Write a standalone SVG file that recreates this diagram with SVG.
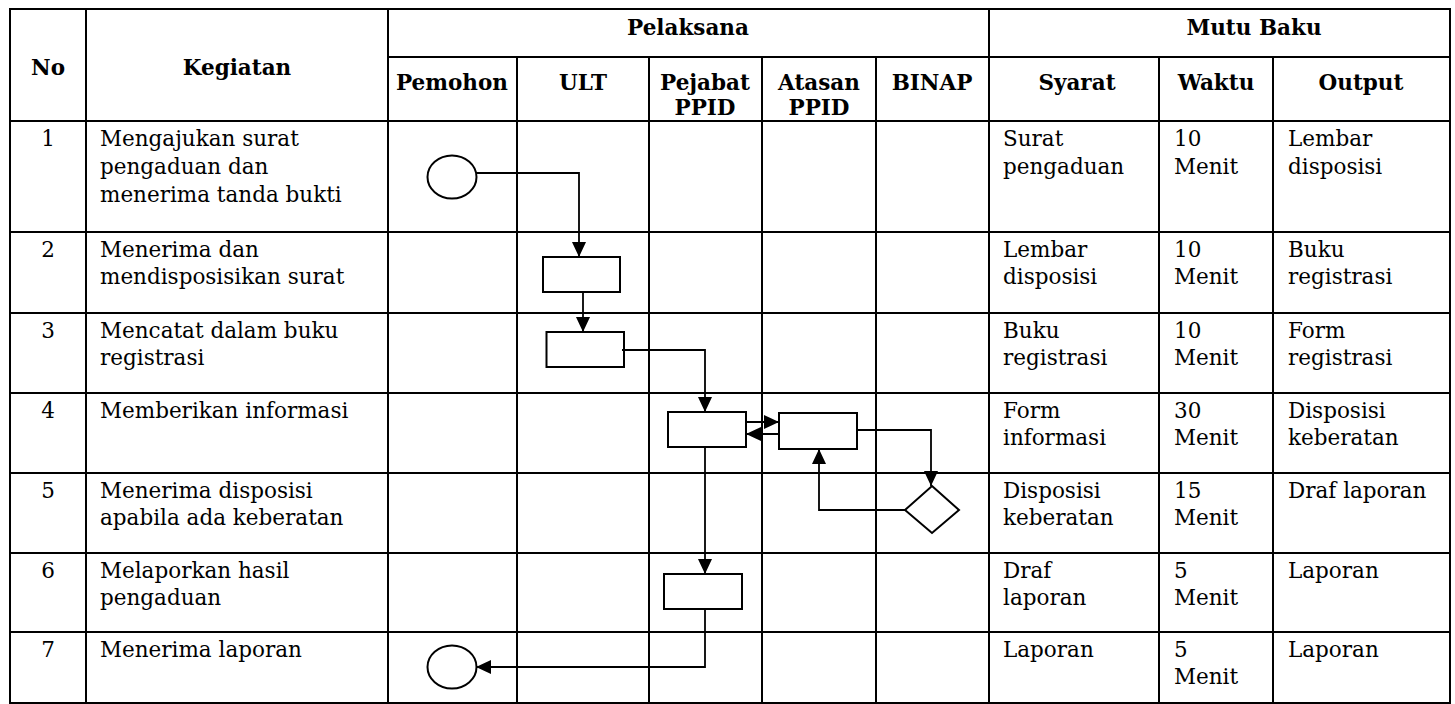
<svg xmlns="http://www.w3.org/2000/svg" width="1455" height="704" viewBox="0 0 1455 704">
<defs>
<style>
.grid line{stroke:#000;stroke-width:2}
.t{font-family:"DejaVu Serif","Liberation Serif",serif;font-size:21.5px;fill:#000}
.h{font-family:"DejaVu Serif","Liberation Serif",serif;font-size:21.5px;font-weight:bold;fill:#000}
.c{text-anchor:middle}
.shape{fill:#fff;stroke:#000;stroke-width:2}
.conn path{fill:none;stroke:#000;stroke-width:1.8}
</style>
<marker id="ah" markerWidth="15" markerHeight="14" refX="15" refY="7" orient="auto" markerUnits="userSpaceOnUse"><path d="M0,0 L15,7 L0,14 z" fill="#000"/></marker>
</defs>
<rect x="0" y="0" width="1455" height="704" fill="#fff"/>
<g id="table" class="grid">
<rect x="10" y="9" width="1440" height="694" fill="none" stroke="#000" stroke-width="2"/>
<line x1="86" y1="9" x2="86" y2="703"/>
<line x1="388" y1="9" x2="388" y2="703"/>
<line x1="989" y1="9" x2="989" y2="703"/>
<line x1="517" y1="57" x2="517" y2="703"/>
<line x1="649" y1="57" x2="649" y2="703"/>
<line x1="762" y1="57" x2="762" y2="703"/>
<line x1="876" y1="57" x2="876" y2="703"/>
<line x1="1159" y1="57" x2="1159" y2="703"/>
<line x1="1273" y1="57" x2="1273" y2="703"/>
<line x1="388" y1="57" x2="1450" y2="57"/>
<line x1="10" y1="121" x2="1450" y2="121"/>
<line x1="10" y1="232" x2="1450" y2="232"/>
<line x1="10" y1="313" x2="1450" y2="313"/>
<line x1="10" y1="393" x2="1450" y2="393"/>
<line x1="10" y1="473" x2="1450" y2="473"/>
<line x1="10" y1="553" x2="1450" y2="553"/>
<line x1="10" y1="632" x2="1450" y2="632"/>
</g>
<g id="header">
<text class="h c" x="48" y="75">No</text>
<text class="h c" x="237" y="75">Kegiatan</text>
<text class="h c" x="688" y="35">Pelaksana</text>
<text class="h c" x="1254" y="35">Mutu Baku</text>
<text class="h c" x="452" y="90">Pemohon</text>
<text class="h c" x="583" y="90">ULT</text>
<text class="h c" x="705" y="90">Pejabat</text>
<text class="h c" x="705" y="115">PPID</text>
<text class="h c" x="819" y="90">Atasan</text>
<text class="h c" x="819" y="115">PPID</text>
<text class="h c" x="932" y="90">BINAP</text>
<text class="h c" x="1077" y="90">Syarat</text>
<text class="h c" x="1216" y="90">Waktu</text>
<text class="h c" x="1361" y="90">Output</text>
</g>
<g id="row1" class="t">
<text class="c" x="48" y="146">1</text>
<text x="100" y="146">Mengajukan surat</text>
<text x="100" y="174">pengaduan dan</text>
<text x="100" y="202">menerima tanda bukti</text>
<text x="1003" y="146">Surat</text>
<text x="1003" y="174">pengaduan</text>
<text x="1174" y="146">10</text>
<text x="1174" y="174">Menit</text>
<text x="1288" y="146">Lembar</text>
<text x="1288" y="174">disposisi</text>
</g>
<g id="row2" class="t">
<text class="c" x="48" y="257">2</text>
<text x="100" y="257">Menerima dan</text>
<text x="100" y="284">mendisposisikan surat</text>
<text x="1003" y="257">Lembar</text>
<text x="1003" y="284">disposisi</text>
<text x="1174" y="257">10</text>
<text x="1174" y="284">Menit</text>
<text x="1288" y="257">Buku</text>
<text x="1288" y="284">registrasi</text>
</g>
<g id="row3" class="t">
<text class="c" x="48" y="338">3</text>
<text x="100" y="338">Mencatat dalam buku</text>
<text x="100" y="365">registrasi</text>
<text x="1003" y="338">Buku</text>
<text x="1003" y="365">registrasi</text>
<text x="1174" y="338">10</text>
<text x="1174" y="365">Menit</text>
<text x="1288" y="338">Form</text>
<text x="1288" y="365">registrasi</text>
</g>
<g id="row4" class="t">
<text class="c" x="48" y="418">4</text>
<text x="100" y="418">Memberikan informasi</text>
<text x="1003" y="418">Form</text>
<text x="1003" y="445">informasi</text>
<text x="1174" y="418">30</text>
<text x="1174" y="445">Menit</text>
<text x="1288" y="418">Disposisi</text>
<text x="1288" y="445">keberatan</text>
</g>
<g id="row5" class="t">
<text class="c" x="48" y="498">5</text>
<text x="100" y="498">Menerima disposisi</text>
<text x="100" y="525">apabila ada keberatan</text>
<text x="1003" y="498">Disposisi</text>
<text x="1003" y="525">keberatan</text>
<text x="1174" y="498">15</text>
<text x="1174" y="525">Menit</text>
<text x="1288" y="498">Draf laporan</text>
</g>
<g id="row6" class="t">
<text class="c" x="48" y="578">6</text>
<text x="100" y="578">Melaporkan hasil</text>
<text x="100" y="605">pengaduan</text>
<text x="1003" y="578">Draf</text>
<text x="1003" y="605">laporan</text>
<text x="1174" y="578">5</text>
<text x="1174" y="605">Menit</text>
<text x="1288" y="578">Laporan</text>
</g>
<g id="row7" class="t">
<text class="c" x="48" y="657">7</text>
<text x="100" y="657">Menerima laporan</text>
<text x="1003" y="657">Laporan</text>
<text x="1174" y="657">5</text>
<text x="1174" y="684">Menit</text>
<text x="1288" y="657">Laporan</text>
</g>
<g id="start"><ellipse class="shape" cx="452" cy="177" rx="24.5" ry="21.5" stroke-width="1.6"/></g>
<g id="ult-terima"><rect class="shape" x="543" y="257" width="77" height="35"/></g>
<g id="ult-catat"><rect class="shape" x="546.5" y="332" width="77.5" height="35"/></g>
<g id="ppid-info"><rect class="shape" x="668" y="412" width="78" height="35"/></g>
<g id="atasan-info"><rect class="shape" x="779" y="413" width="78" height="36"/></g>
<g id="binap-decision"><polygon class="shape" points="932,486 959,510 932,533 905,510" stroke-width="1.6"/></g>
<g id="ppid-lapor"><rect class="shape" x="664" y="574" width="78" height="35"/></g>
<g id="end"><ellipse class="shape" cx="452" cy="667" rx="24.5" ry="21.5" stroke-width="1.6"/></g>
<g id="connectors" class="conn">
<path d="M476,173 H579 V257" marker-end="url(#ah)"/>
<path d="M583,292 V332" marker-end="url(#ah)"/>
<path d="M622,350 H705 V412" marker-end="url(#ah)"/>
<path d="M746,422 H779" marker-end="url(#ah)"/>
<path d="M779,434 H746" marker-end="url(#ah)"/>
<path d="M857,430 H931 V486" marker-end="url(#ah)"/>
<path d="M905,510 H819 V449" marker-end="url(#ah)"/>
<path d="M705,447 V574" marker-end="url(#ah)"/>
<path d="M705,609 V667 H476" marker-end="url(#ah)"/>
</g>
</svg>
